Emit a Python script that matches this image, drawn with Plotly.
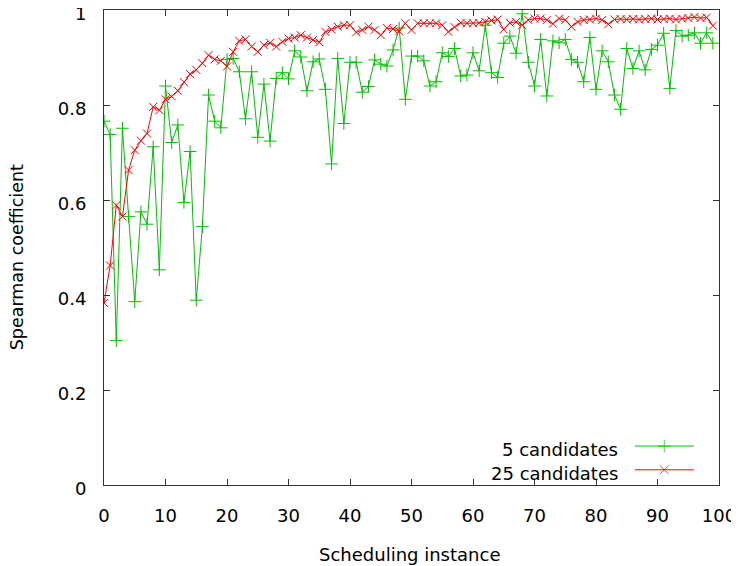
import plotly.graph_objects as go

instances = list(range(100))

five_candidates = [
    0.766, 0.738, 0.304, 0.751, 0.565, 0.386, 0.575, 0.549, 0.712, 0.453,
    0.840, 0.721, 0.758, 0.595, 0.702, 0.389, 0.544, 0.821, 0.766, 0.752,
    0.896, 0.898, 0.870, 0.771, 0.870, 0.732, 0.844, 0.724, 0.856, 0.868,
    0.855, 0.914, 0.901, 0.830, 0.891, 0.897, 0.833, 0.676, 0.898, 0.761,
    0.890, 0.890, 0.827, 0.839, 0.895, 0.886, 0.882, 0.916, 0.962, 0.812,
    0.903, 0.903, 0.893, 0.840, 0.849, 0.910, 0.902, 0.919, 0.861, 0.863,
    0.910, 0.872, 0.968, 0.868, 0.858, 0.930, 0.945, 0.909, 0.992, 0.890,
    0.840, 0.938, 0.819, 0.935, 0.931, 0.938, 0.896, 0.890, 0.849, 0.942,
    0.833, 0.914, 0.891, 0.821, 0.791, 0.919, 0.877, 0.914, 0.874, 0.917,
    0.926, 0.951, 0.835, 0.957, 0.945, 0.947, 0.952, 0.930, 0.952, 0.930,
]

twentyfive_candidates = [
    0.383, 0.462, 0.589, 0.565, 0.663, 0.705, 0.725, 0.740, 0.796, 0.789,
    0.812, 0.818, 0.830, 0.848, 0.865, 0.874, 0.888, 0.905, 0.896, 0.893,
    0.881, 0.912, 0.935, 0.938, 0.923, 0.912, 0.926, 0.931, 0.923, 0.933,
    0.940, 0.942, 0.947, 0.942, 0.937, 0.932, 0.954, 0.959, 0.965, 0.968,
    0.968, 0.953, 0.958, 0.965, 0.958, 0.947, 0.962, 0.960, 0.955, 0.972,
    0.958, 0.972, 0.972, 0.972, 0.972, 0.968, 0.954, 0.964, 0.973, 0.972,
    0.972, 0.973, 0.975, 0.978, 0.980, 0.959, 0.973, 0.975, 0.968, 0.979,
    0.982, 0.982, 0.979, 0.971, 0.982, 0.979, 0.965, 0.975, 0.979, 0.980,
    0.982, 0.979, 0.970, 0.980, 0.981, 0.980, 0.981, 0.980, 0.981, 0.982,
    0.980, 0.981, 0.982, 0.980, 0.982, 0.983, 0.985, 0.983, 0.984, 0.967,
]

series_names = ["5 candidates", "25 candidates"]
x_ticks = [0, 10, 20, 30, 40, 50, 60, 70, 80, 90, 100]
y_ticks = [0, 0.2, 0.4, 0.6, 0.8, 1]
y_tick_labels = ["0", "0.2", "0.4", "0.6", "0.8", "1"]
x_title = "Scheduling instance"
y_title = "Spearman coefficient"

GREEN = "#00c000"
RED = "#ff0000"
FONT = "DejaVu Sans"
FS = 18

fig = go.Figure()
fig.add_trace(go.Scatter(
    x=instances, y=five_candidates, mode="lines+markers", name=series_names[0],
    line=dict(color=GREEN, width=1),
    marker=dict(symbol="cross-thin", size=9, line=dict(color=GREEN, width=1)),
    showlegend=False,
))
fig.add_trace(go.Scatter(
    x=instances, y=twentyfive_candidates, mode="lines+markers", name=series_names[1],
    line=dict(color=RED, width=1),
    marker=dict(symbol="x-thin", size=8, line=dict(color=RED, width=1)),
    showlegend=False,
))

# Legend keys (gnuplot style: text on the left, sample on the right), on a hidden overlay axis
leg_x = [0.863, 0.911, 0.959]
leg_y = [0.082, 0.032]
for name, color, sym, ly in [(series_names[0], GREEN, "cross-thin", leg_y[0]),
                             (series_names[1], RED, "x-thin", leg_y[1])]:
    fig.add_trace(go.Scatter(
        x=leg_x, y=[ly] * 3, xaxis="x2", yaxis="y2", mode="lines+markers",
        line=dict(color=color, width=1),
        marker=dict(symbol=sym, size=[0, 9, 0], line=dict(color=color, width=1)),
        showlegend=False, hoverinfo="skip",
    ))
    fig.add_annotation(
        x=0.839, y=ly - 0.008, xref="x2", yref="y2", text=name, showarrow=False,
        xanchor="right", yanchor="middle", font=dict(family=FONT, size=FS, color="#000"),
    )

# Axis titles
fig.add_annotation(x=0.497, y=-0.147, xref="paper", yref="paper", text=x_title,
                   showarrow=False, xanchor="center", yanchor="middle",
                   font=dict(family=FONT, size=FS, color="#000"))
fig.add_annotation(x=-0.141, y=0.48, xref="paper", yref="paper", text=y_title,
                   showarrow=False, xanchor="center", yanchor="middle", textangle=-90,
                   font=dict(family=FONT, size=17.5, color="#000"))

axis_common = dict(
    showgrid=False, zeroline=False, showline=True, linecolor="#333", linewidth=1,
    mirror="allticks", ticks="inside", ticklen=6, tickcolor="#333", tickwidth=1,
    tickfont=dict(family=FONT, size=FS, color="#000"), automargin=False,
    ticklabeloverflow="allow",
)

fig.update_layout(
    width=739, height=566,
    margin=dict(l=96, r=28, t=2, b=89, autoexpand=False),
    paper_bgcolor="white", plot_bgcolor="white",
    font=dict(family=FONT, size=FS, color="#000"),
    xaxis=dict(range=[0, 100], tickvals=x_ticks, ticklabelstandoff=14, **axis_common),
    yaxis=dict(range=[0, 1], tickvals=y_ticks, ticktext=y_tick_labels,
               ticklabelstandoff=13, ticklabelshift=4, **axis_common),
    xaxis2=dict(range=[0, 1], overlaying="x", visible=False),
    yaxis2=dict(range=[0, 1], overlaying="y", visible=False),
)

fig.write_html("out.html")
